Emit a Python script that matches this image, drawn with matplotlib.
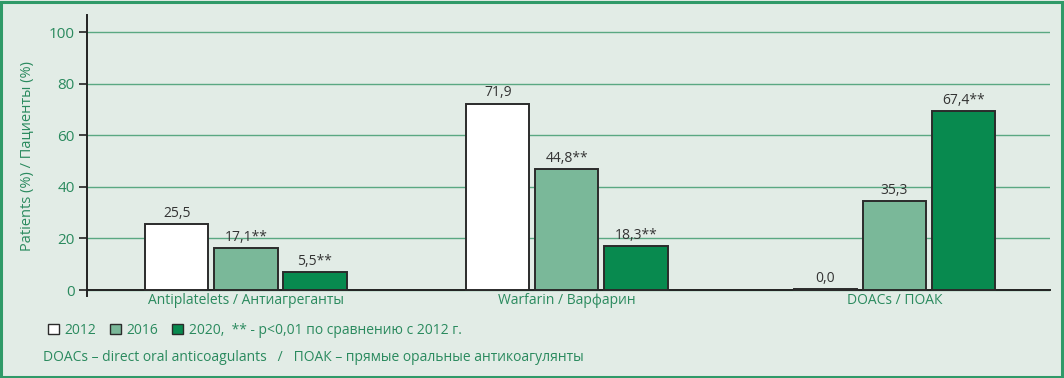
import matplotlib.pyplot as plt
from matplotlib.patches import Patch, Rectangle
import numpy as np

plt.rcParams['font.family'] = ['Open Sans', 'DejaVu Sans']

categories = ['Antiplatelets / Антиагреганты', 'Warfarin / Варфарин', 'DOACs / ПОАК']
years = ['2012', '2016', '2020']
# bar heights as drawn in the picture
v2012 = [25.6, 72.3, 0.3]
v2016 = [16.3, 46.9, 34.5]
v2020 = [7.0, 17.0, 69.3]
# printed labels
lab2012 = ['25,5', '71,9', '0,0']
lab2016 = ['17,1**', '44,8**', '35,3']
lab2020 = ['5,5**', '18,3**', '67,4**']
yticks = [0, 20, 40, 60, 80, 100]

bg = '#e2ece6'
green_txt = '#2a8a5e'
colors = ['#ffffff', '#7ab899', '#088a4f']

fig = plt.figure(figsize=(10.64, 3.78), dpi=100, facecolor=bg)
ax = fig.add_axes([0.0818, 0.217, 0.905, 0.743])
ax.set_facecolor(bg)

x = np.array([0, 0.99, 2.0])
w = 0.195
off = 0.213
series = [(v2012, lab2012), (v2016, lab2016), (v2020, lab2020)]
for i, (vals, labs) in enumerate(series):
    bars = ax.bar(x + (i - 1) * off, vals, w, color=colors[i], edgecolor='#2b2b2b',
                  linewidth=1.4, zorder=3)
    for b, t in zip(bars, labs):
        ax.text(b.get_x() + b.get_width() / 2, b.get_height() + 1.2, t,
                ha='center', va='bottom', fontsize=10, color='#333333')

ax.set_xlim(-0.49, 2.48)
ax.set_ylim(-2.3, 106.6)
ax.set_yticks(yticks)
ax.set_yticklabels([str(t) for t in yticks], fontsize=11)
ax.set_xticks(x)
ax.set_xticklabels(categories, fontsize=10)
ax.tick_params(axis='x', length=0, pad=2, labelcolor=green_txt)
ax.tick_params(axis='y', length=6, width=1.2, color='#222222', pad=3, labelcolor=green_txt)
ax.yaxis.grid(True, color='#5aa882', linewidth=1.0, zorder=0)
for s in ['top', 'right']:
    ax.spines[s].set_visible(False)
ax.spines['bottom'].set_position(('data', 0))
ax.spines['bottom'].set_color('#222222')
ax.spines['bottom'].set_linewidth(1.4)
ax.spines['left'].set_color('#222222')
ax.spines['left'].set_linewidth(1.4)
ax.set_ylabel('Patients (%) / Пациенты (%)', color=green_txt, fontsize=10.5, labelpad=10)

handles = [Patch(facecolor=c, edgecolor='#2b2b2b', linewidth=1) for c in colors]
leg_labels = ['2012', '2016', '2020,  ** - p<0,01 по сравнению с 2012 г.']
leg = fig.legend(handles, leg_labels, loc='center left', bbox_to_anchor=(0.033, 0.126),
                 ncol=3, frameon=False, fontsize=10, handlelength=0.8, handleheight=0.8,
                 handletextpad=0.4, columnspacing=1.0)
for t in leg.get_texts():
    t.set_color(green_txt)

fig.text(0.04, 0.055, 'DOACs – direct oral anticoagulants   /   ПОАК – прямые оральные антикоагулянты',
         color=green_txt, fontsize=10, va='center')

fig.patches.append(Rectangle((0.001, 0.002), 0.997, 0.994, transform=fig.transFigure,
                             fill=False, edgecolor='#2f9a68', linewidth=2.2))

fig.savefig('out.png', dpi=100, facecolor=bg)
